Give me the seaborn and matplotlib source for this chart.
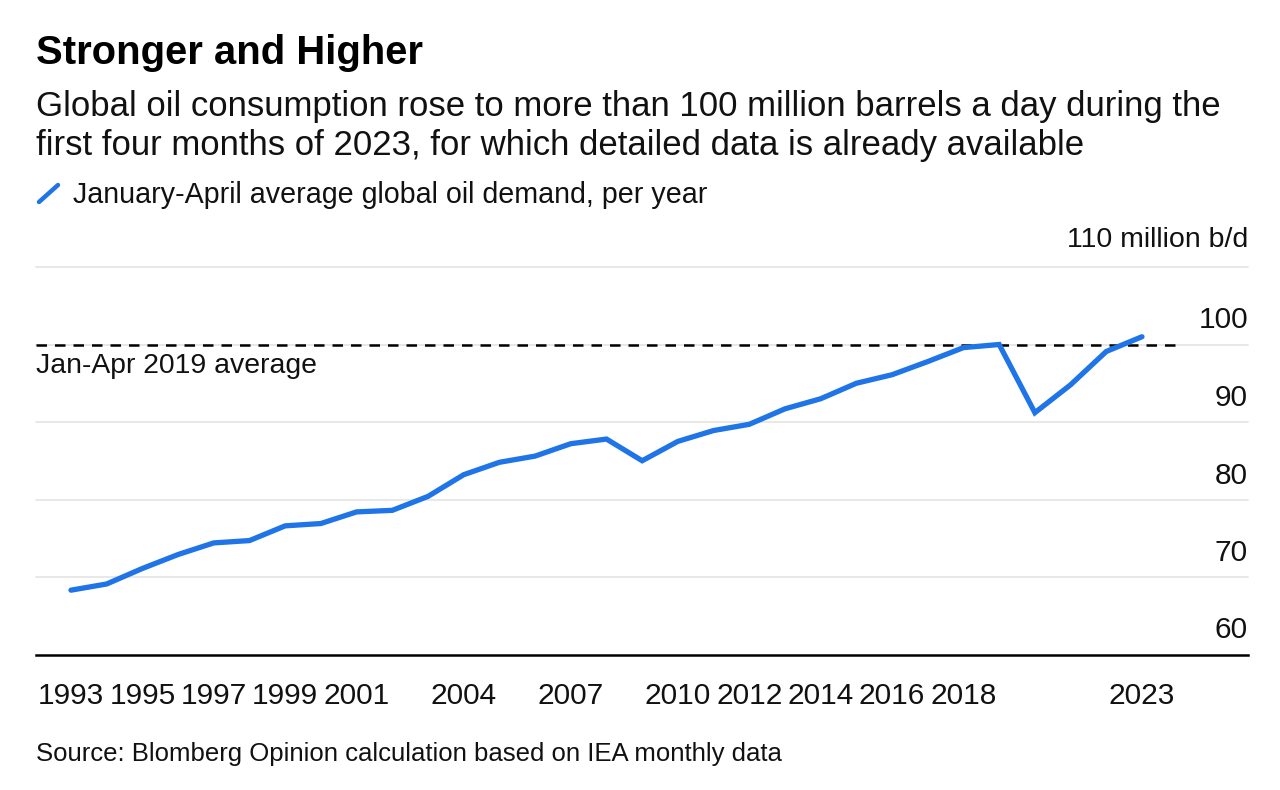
import matplotlib
matplotlib.use("Agg")
import matplotlib.pyplot as plt
import seaborn as sns
import pandas as pd
from matplotlib.lines import Line2D

years = list(range(1993, 2024))
demand = [68.3, 69.1, 71.1, 72.9, 74.4, 74.7, 76.6, 76.9, 78.4, 78.6,
          80.4, 83.2, 84.8, 85.6, 87.2, 87.8, 85.0, 87.5, 88.9, 89.7,
          91.7, 93.0, 95.0, 96.1, 97.8, 99.6, 100.0, 91.2, 94.8, 99.1, 101.0]
avg_2019 = 100.0
xtick_years = [1993, 1995, 1997, 1999, 2001, 2004, 2007, 2010, 2012, 2014, 2016, 2018, 2023]
ytick_values = [60, 70, 80, 90, 100, 110]

title = "Stronger and Higher"
subtitle_lines = ["Global oil consumption rose to more than 100 million barrels a day during the",
                  "first four months of 2023, for which detailed data is already available"]
legend_label = "January-April average global oil demand, per year"
ref_label = "Jan-Apr 2019 average"
unit = "million b/d"
source = "Source: Blomberg Opinion calculation based on IEA monthly data"

BLUE = "#1f74e8"
W, H = 1280, 790

df = pd.DataFrame({"year": years, "demand": demand})

sns.set_theme(style="white")
plt.rcParams["font.family"] = ["Liberation Sans", "DejaVu Sans"]

fig = plt.figure(figsize=(W / 100, H / 100), dpi=100)
ax = fig.add_axes([36 / W, 1 - 654.5 / H, (1248 - 36) / W, (654.5 - 267) / H])

def fx(px):
    return px / W

def fy(py):
    return 1 - py / H

sns.lineplot(data=df, x="year", y="demand", ax=ax, color=BLUE, linewidth=3.8,
             solid_joinstyle="miter", solid_capstyle="round", zorder=3)

ax.set_xlim(1992.02, 2025.97)
ax.set_ylim(60, 110)

# gridlines
for v in ytick_values[1:]:
    ax.axhline(v, color="#e6e6e6", linewidth=1.3, zorder=1, clip_on=False)

# reference dashed line
ax.plot([1992.02, 2024.0], [avg_2019, avg_2019], color="black", linewidth=1.8,
        linestyle=(0, (4.2, 3.2)), zorder=2)
ax.text(1992.02, avg_2019 - 1.1, ref_label, ha="left", va="top", fontsize=20.4, color="#111111")

# axes styling
for s in ["top", "right", "left"]:
    ax.spines[s].set_visible(False)
ax.spines["bottom"].set_color("black")
ax.spines["bottom"].set_linewidth(1.8)
ax.set_xticks(xtick_years)
ax.set_xticklabels([str(y) for y in xtick_years])
ax.tick_params(axis="x", direction="out", length=11, width=1.3, color="black",
               labelsize=21.5, pad=9, labelcolor="#111111")
ax.set_yticks([])
ax.set_xlabel("")
ax.set_ylabel("")

# y labels, right aligned above gridlines
for v in ytick_values[:-1]:
    ax.annotate(str(v), xy=(1, v), xycoords=("axes fraction", "data"),
                xytext=(0, 10), textcoords="offset pixels",
                ha="right", va="bottom", fontsize=21.5, color="#111111")
ax.annotate("110 " + unit, xy=(1, 110), xycoords=("axes fraction", "data"),
            xytext=(0, 14), textcoords="offset pixels",
            ha="right", va="bottom", fontsize=20.5, color="#111111")

# header texts
fig.text(fx(36), fy(64), title, fontsize=28.8, fontweight="bold", color="black", va="baseline")
fig.text(fx(36), fy(116), subtitle_lines[0], fontsize=25, color="#111111", va="baseline")
fig.text(fx(36), fy(155), subtitle_lines[1], fontsize=25, color="#111111", va="baseline")
fig.add_artist(Line2D([fx(39), fx(58)], [fy(202), fy(185)], color=BLUE, linewidth=3.2,
                      solid_capstyle="round", transform=fig.transFigure))
fig.text(fx(73), fy(203), legend_label, fontsize=20.6, color="#111111", va="baseline")
fig.text(fx(36), fy(761), source, fontsize=18.5, color="#111111", va="baseline")

fig.savefig("out.png", dpi=100, facecolor="white")
